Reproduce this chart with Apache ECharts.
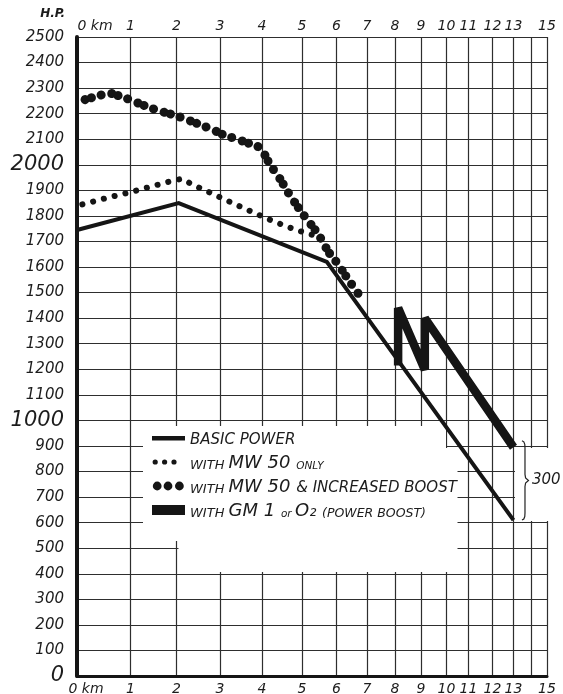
<!DOCTYPE html>
<html>
<head>
<meta charset="utf-8">
<script src="https://cdn.jsdelivr.net/npm/echarts@6/dist/echarts.min.js"></script>
<style>
html,body{margin:0;padding:0;background:#ffffff;}
#chart{width:563px;height:694px;}
</style>
</head>
<body>
<div id="chart"></div>
<script>
// ---- data ----
const kmLabels = [0,1,2,3,4,5,6,7,8,9,10,11,12,13,14,15];
// relative position of each altitude line on the original's non-linear altitude scale
const kmScale = [0, 0.1138, 0.2117, 0.3043, 0.3936, 0.4787, 0.5521, 0.6170, 0.6766, 0.7319, 0.7862, 0.8330, 0.8840, 0.9287, 0.9660, 1];
const hpMin = 0, hpMax = 2500, hpStep = 100;
const hpBigLabels = [0, 1000, 2000];

const basicPower = [[0,1745],[2.05,1850],[5.72,1620],[13,610]];
const mw50Only = [[0.1,1845],[0.55,1870],[1.0,1893],[1.45,1915],[1.9,1937],[2.12,1945],[2.4,1920],[2.85,1885],[3.3,1850],[3.8,1813],[4.3,1778],[4.85,1745],[5.45,1720]];
const mw50Boost = [[0.15,2255],[0.6,2282],[0.9,2262],[1.27,2234],[1.57,2214],[2.0,2192],[2.27,2175],[2.8,2140],[3.07,2118],[3.55,2092],[3.9,2072],[4.05,2045],[4.2,2000],[4.42,1953],[4.7,1880],[5.0,1812],[5.47,1730],[5.76,1660],[6.05,1612],[6.38,1552],[6.78,1485]];
const gm1Boost = [[8.12,1215],[8.12,1440],[9.15,1198],[9.15,1400],[13,895]];

const seriesNames = ['BASIC POWER', 'WITH MW 50 ONLY', 'WITH MW 50 & INCREASED BOOST', 'WITH GM 1 or O₂ (POWER BOOST)'];
const boostGainLabel = '300';

// ---- helpers ----
function kmToPos(km) {
  const i = Math.max(0, Math.min(Math.floor(km), kmScale.length - 2));
  return kmScale[i] + (kmScale[i + 1] - kmScale[i]) * (km - i);
}
function posToKm(pos) {
  let best = 0;
  kmScale.forEach((p, i) => { if (Math.abs(p - pos) < Math.abs(kmScale[best] - pos)) best = i; });
  return kmLabels[best];
}
const toXY = arr => arr.map(([km, hp]) => [kmToPos(km), hp]);

const INK = '#151515';
const GRIDC = '#2e2e2e';
const FONT = 'DejaVu Sans';

const tok = (size) => ({ fontSize: size, fontStyle: 'italic', fontFamily: FONT, color: '#1c1c1c', lineHeight: 20, verticalAlign: 'bottom' });
const legendText = {
  [seriesNames[0]]: '{m|BASIC POWER}',
  [seriesNames[1]]: '{s|WITH }{b|MW 50 }{xs|ONLY}',
  [seriesNames[2]]: '{s|WITH }{b|MW 50 }{m|& INCREASED BOOST}',
  [seriesNames[3]]: '{s|WITH }{b|GM 1 }{xs|or }{b|O₂ }{s2|(POWER BOOST)}'
};
const corners = 'M0,0h0.01v0.01h-0.01zM33,12h-0.01v-0.01h0.01z';
const circ = (cx, r) => `M${cx - r},6a${r},${r} 0 1,0 ${2 * r},0a${r},${r} 0 1,0 ${-2 * r},0z`;
const legendIcons = [
  'path://' + corners + 'M0,4h33v4.5h-33z',
  'path://' + corners + circ(3.2, 2.6) + circ(12.6, 2.6) + circ(22.0, 2.6),
  'path://' + corners + circ(5.2, 4.4) + circ(16.0, 4.4) + circ(27.4, 4.4),
  'path://' + corners + 'M0,1h33v10h-33z'
];

const xLabelBase = { fontSize: 14, fontStyle: 'italic', fontFamily: FONT, color: '#1c1c1c' };

const chart = echarts.init(document.getElementById('chart'), null, { renderer: 'canvas' });

const boxes = [
  { type: 'rect', z: 1, silent: true, shape: { x: 143, y: 426, width: 303, height: 115 }, style: { fill: '#ffffff' } },
  { type: 'rect', z: 1, silent: true, shape: { x: 178.5, y: 540, width: 267.5, height: 32 }, style: { fill: '#ffffff' } },
  { type: 'rect', z: 1, silent: true, shape: { x: 446, y: 448, width: 11.5, height: 124 }, style: { fill: '#ffffff' } },
  { type: 'rect', z: 1, silent: true, shape: { x: 515, y: 448, width: 48, height: 73 }, style: { fill: '#ffffff' } }
];

const option = {
  backgroundColor: '#ffffff',
  animation: false,
  grid: { left: 77, right: 16, top: 37, bottom: 18, containLabel: false, outerBoundsMode: 'none' },
  xAxis: [
    {
      type: 'value', min: 0, max: 1, position: 'bottom',
      axisLine: { show: true, onZero: false, lineStyle: { color: INK, width: 3 } },
      axisTick: { show: false, customValues: kmScale },
      splitLine: { show: true, lineStyle: { color: GRIDC, width: 1.2 } },
      axisLabel: {
        customValues: kmScale, margin: 6, showMinLabel: true, showMaxLabel: true,
        ...xLabelBase,
        formatter: v => { const k = posToKm(v); return k === 0 ? '{z|0 km}' : String(k); },
        rich: { z: { ...xLabelBase, padding: [0, 0, 0, 18] } }
      }
    },
    {
      type: 'value', min: 0, max: 1, position: 'top',
      axisLine: { show: false },
      axisTick: { show: false, customValues: kmScale },
      splitLine: { show: false },
      axisLabel: {
        customValues: kmScale, margin: 4, showMinLabel: true, showMaxLabel: true,
        ...xLabelBase,
        formatter: v => { const k = posToKm(v); return k === 0 ? '{z|0 km}' : String(k); },
        rich: { z: { ...xLabelBase, padding: [0, 0, 0, 36] } }
      }
    }
  ],
  yAxis: {
    type: 'value', min: hpMin, max: hpMax, interval: hpStep,
    name: 'H.P.', nameLocation: 'end', nameGap: 17,
    nameTextStyle: { fontSize: 12, fontWeight: 'bold', fontStyle: 'italic', fontFamily: FONT, color: '#1c1c1c', align: 'right', padding: [0, 12, 0, 0] },
    axisLine: { show: true, onZero: false, lineStyle: { color: INK, width: 4 } },
    axisTick: { show: false },
    splitLine: { show: true, lineStyle: { color: GRIDC, width: 1.2 } },
    axisLabel: {
      margin: 13, showMinLabel: true, showMaxLabel: true,
      formatter: v => hpBigLabels.includes(v) ? '{big|' + v + '}' : '{n|' + v + '}',
      rich: {
        n: { fontSize: 15, fontStyle: 'italic', fontFamily: FONT, color: '#1c1c1c' },
        big: { fontSize: 21, fontStyle: 'italic', fontFamily: FONT, color: '#1c1c1c' }
      }
    }
  },
  legend: {
    orient: 'vertical', left: 152, top: 432, padding: 0,
    itemWidth: 33, itemHeight: 12, itemGap: 6, selectedMode: false,
    itemStyle: { color: INK, borderWidth: 0 },
    data: seriesNames.map((n, i) => ({ name: n, icon: legendIcons[i] })),
    formatter: name => legendText[name],
    textStyle: {
      color: '#1c1c1c', fontFamily: FONT, fontStyle: 'italic',
      rich: { s: tok(13), s2: tok(12.5), b: tok(18), m: tok(15), xs: tok(10.5) }
    }
  },
  graphic: boxes,
  series: [
    {
      name: seriesNames[0], type: 'line', data: toXY(basicPower), symbol: 'none', z: 3,
      itemStyle: { color: INK },
      lineStyle: { color: INK, width: 4, join: 'miter' }
    },
    {
      name: seriesNames[1], type: 'line', data: toXY(mw50Only), symbol: 'none', z: 3,
      itemStyle: { color: INK },
      lineStyle: { color: INK, width: 6, type: [0.1, 11], cap: 'round' }
    },
    {
      name: seriesNames[2], type: 'line', data: toXY(mw50Boost), symbol: 'none', z: 3,
      itemStyle: { color: INK },
      lineStyle: { color: INK, width: 9, type: [0.1, 6.5, 0.1, 10, 0.1, 11], cap: 'round' }
    },
    {
      name: seriesNames[3], type: 'line', data: toXY(gm1Boost), symbol: 'none', z: 3,
      itemStyle: { color: INK },
      lineStyle: { color: INK, width: 8.5, join: 'bevel' }
    }
  ]
};
chart.setOption(option);

// bracket showing the power-boost gain at the end of the curves (positions derived from the data)
const endKm = basicPower[basicPower.length - 1][0];
const pLow = chart.convertToPixel({ xAxisIndex: 0, yAxisIndex: 0 }, [kmToPos(endKm), basicPower[basicPower.length - 1][1]]);
const pHigh = chart.convertToPixel({ xAxisIndex: 0, yAxisIndex: 0 }, [kmToPos(endKm), gm1Boost[gm1Boost.length - 1][1] + 25]);
const x0 = pLow[0] + 8.5, yT = pHigh[1], yB = pLow[1], yM = (yT + yB) / 2;
const bracePts = [
  [x0, yT], [x0 + 1.8, yT + 1], [x0 + 2.8, yT + 3.5], [x0 + 3, yT + 7],
  [x0 + 3, yM - 6], [x0 + 3.6, yM - 2.5], [x0 + 6.5, yM],
  [x0 + 3.6, yM + 2.5], [x0 + 3, yM + 6],
  [x0 + 3, yB - 7], [x0 + 2.8, yB - 3.5], [x0 + 1.8, yB - 1], [x0, yB]
];
chart.setOption({
  graphic: boxes.concat([
    { type: 'polyline', z: 5, silent: true, shape: { points: bracePts }, style: { fill: null, stroke: '#222', lineWidth: 1.2 } },
    { type: 'text', z: 5, silent: true, x: x0 + 10, y: yM, style: { text: boostGainLabel, fontSize: 15, fontStyle: 'italic', fontFamily: FONT, fill: '#1c1c1c', verticalAlign: 'middle', align: 'left' } }
  ])
});
</script>
</body>
</html>
